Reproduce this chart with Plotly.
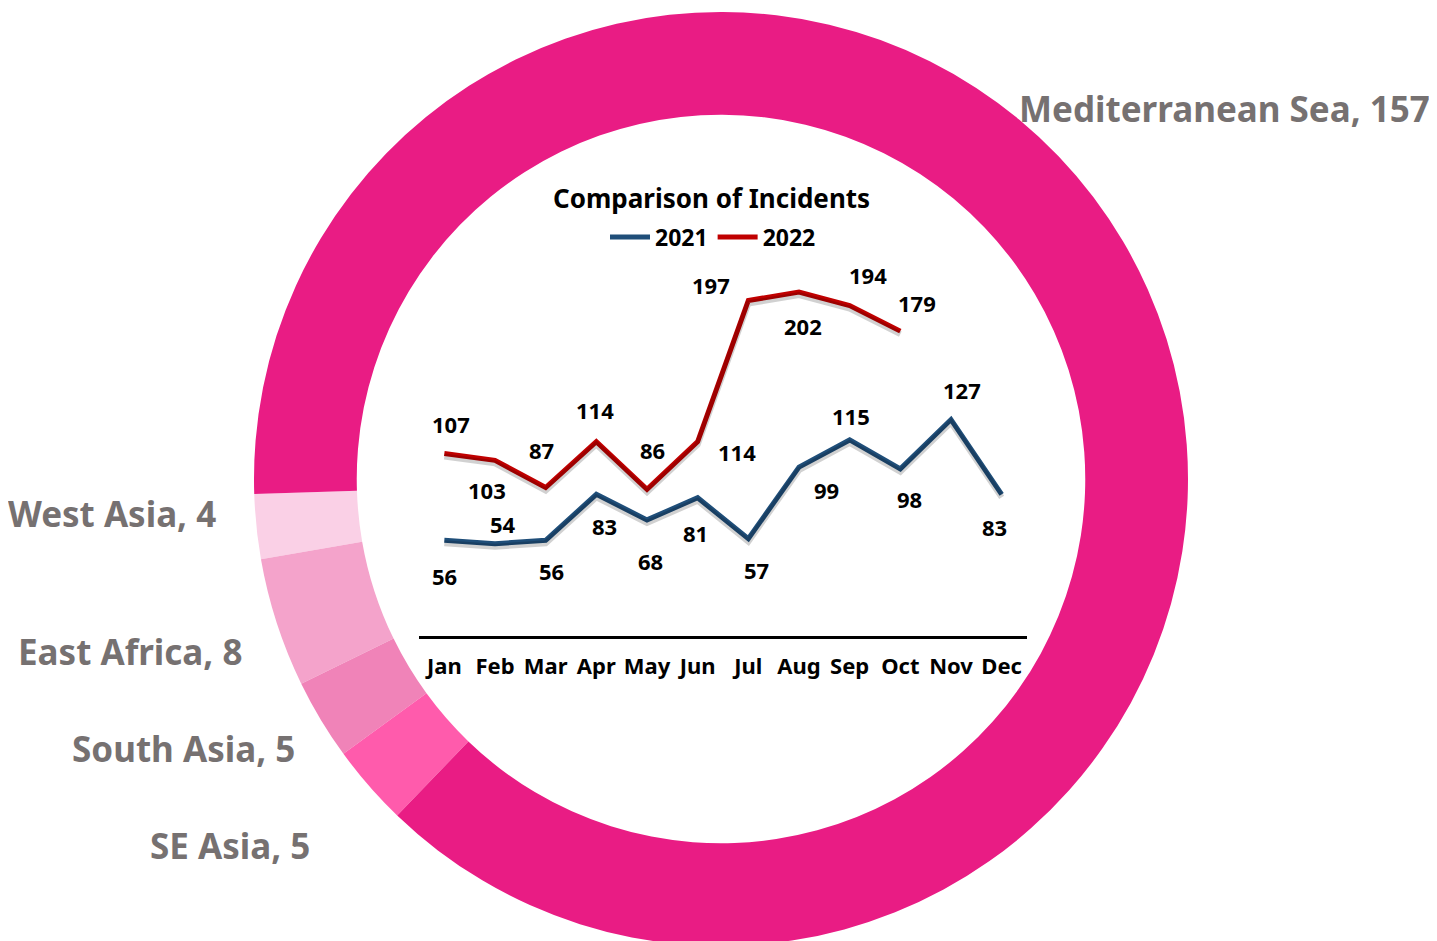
import plotly.graph_objects as go

# ---- data ----
regions = ["West Asia", "East Africa", "South Asia", "SE Asia", "Mediterranean Sea"]
region_counts = [4, 8, 5, 5, 157]
region_colors = ["#FAD0E6", "#F4A3CB", "#F083B8", "#FF5BAC", "#E91C84"]

months = ["Jan", "Feb", "Mar", "Apr", "May", "Jun", "Jul", "Aug", "Sep", "Oct", "Nov", "Dec"]
inc_2021 = [56, 54, 56, 83, 68, 81, 57, 99, 115, 98, 127, 83]
inc_2022 = [107, 103, 87, 114, 86, 114, 197, 202, 194, 179]

# label offsets (pixels) for the data labels
off_2021 = [(0, -36), (8, 20), (6, -31), (8, -32), (3, -41), (-2, -35), (8, -31),
            (27, -23), (1, 24), (9, -30), (11, 30), (-7, -33)]
off_2022 = [(7, 30), (-8, -30), (-4, 38), (-1, 32), (5, 39), (39, -10), (-37, 16),
            (4, -34), (18, 31), (17, 28)]

W, H = 1437, 941
OX, OY = 8, 8   # page offset of the plot div
FONT = "Noto Sans"
C2021 = "#1F4E79"
C2022 = "#C00000"
GRAY = "#767171"


def px_x(x):
    return (x - OX) / W


def px_y(y):
    return (H - (y - OY)) / H


fig = go.Figure()

# donut
cx, cy, r = 721, 479, 467
fig.add_trace(go.Pie(
    labels=regions, values=region_counts, sort=False,
    direction="counterclockwise", rotation=260.1, hole=0.78,
    marker=dict(colors=region_colors, line=dict(width=0)),
    textinfo="none", hoverinfo="label+value", showlegend=False,
    domain=dict(x=[px_x(cx - r), px_x(cx + r)], y=[px_y(cy + r), px_y(cy - r)]),
))

# line chart domains
x_left, x_right = 419, 1027
y_base, scale = 635.5, 1.7005
ymax = 230
y_top_px = y_base - ymax * scale
dom_x = [px_x(x_left), px_x(x_right)]
dom_y = [px_y(y_base), px_y(y_top_px)]

# shadows
sdx, sdy = 2, 3
fig.add_trace(go.Scatter(x=months, y=inc_2021, mode="lines", xaxis="x2", yaxis="y2",
                         line=dict(color="rgba(0,0,0,0.18)", width=6), showlegend=False, hoverinfo="skip"))
fig.add_trace(go.Scatter(x=months[:len(inc_2022)], y=inc_2022, mode="lines", xaxis="x2", yaxis="y2",
                         line=dict(color="rgba(0,0,0,0.18)", width=6), showlegend=False, hoverinfo="skip"))

fig.add_trace(go.Scatter(x=months, y=inc_2021, mode="lines", name="2021",
                         line=dict(color=C2021, width=5)))
fig.add_trace(go.Scatter(x=months[:len(inc_2022)], y=inc_2022, mode="lines", name="2022",
                         line=dict(color=C2022, width=5)))

annotations = []
lab_font = dict(family=FONT, size=22, color="black", weight="bold")
for m, v, (dx, dy) in zip(months, inc_2021, off_2021):
    annotations.append(dict(x=m, y=v, xref="x", yref="y", text=str(v), showarrow=False,
                            xshift=dx, yshift=dy, font=lab_font))
for m, v, (dx, dy) in zip(months, inc_2022, off_2022):
    annotations.append(dict(x=m, y=v, xref="x", yref="y", text=str(v), showarrow=False,
                            xshift=dx, yshift=dy, font=lab_font))

# donut labels
lab_pos = {
    "Mediterranean Sea": (1017, 108, "left"),
    "West Asia": (218, 513, "right"),
    "East Africa": (244, 651, "right"),
    "South Asia": (297, 748, "right"),
    "SE Asia": (312, 845, "right"),
}
for name, val in zip(regions, region_counts):
    lx, ly, anc = lab_pos[name]
    annotations.append(dict(x=px_x(lx), y=px_y(ly), xref="paper", yref="paper",
                            text=f"{name}, {val}", showarrow=False, xanchor=anc, yanchor="middle",
                            font=dict(family=FONT, size=35, color=GRAY, weight="bold")))

annotations.append(dict(x=px_x(711), y=px_y(198), xref="paper", yref="paper",
                        text="Comparison of Incidents", showarrow=False, xanchor="center", yanchor="middle",
                        font=dict(family=FONT, size=26, color="black", weight="bold")))

fig.update_layout(
    width=W, height=H, margin=dict(l=0, r=0, t=0, b=0),
    paper_bgcolor="white", plot_bgcolor="rgba(0,0,0,0)",
    annotations=annotations,
    legend=dict(orientation="h", x=px_x(713), xanchor="center", y=px_y(237), yanchor="middle",
                font=dict(family=FONT, size=23, color="black", weight="bold"),
                bgcolor="rgba(0,0,0,0)", itemwidth=40, tracegroupgap=0),
    xaxis=dict(domain=dom_x, type="category", categoryorder="array", categoryarray=months,
               range=[-0.5, 11.5], showline=True, linecolor="black", linewidth=3,
               showgrid=False, zeroline=False, ticks="", ticklabelstandoff=9,
               tickfont=dict(family=FONT, size=22, color="black", weight="bold"), fixedrange=True),
    yaxis=dict(domain=dom_y, range=[0, ymax], visible=False, fixedrange=True),
    xaxis2=dict(domain=[px_x(x_left + sdx), px_x(x_right + sdx)], type="category",
                categoryorder="array", categoryarray=months, range=[-0.5, 11.5],
                visible=False, overlaying="x", anchor="y2"),
    yaxis2=dict(domain=[px_y(y_base + sdy), px_y(y_top_px + sdy)], range=[0, ymax],
                visible=False, anchor="x2"),
    hovermode="closest",
)

fig.write_html("out.html")
